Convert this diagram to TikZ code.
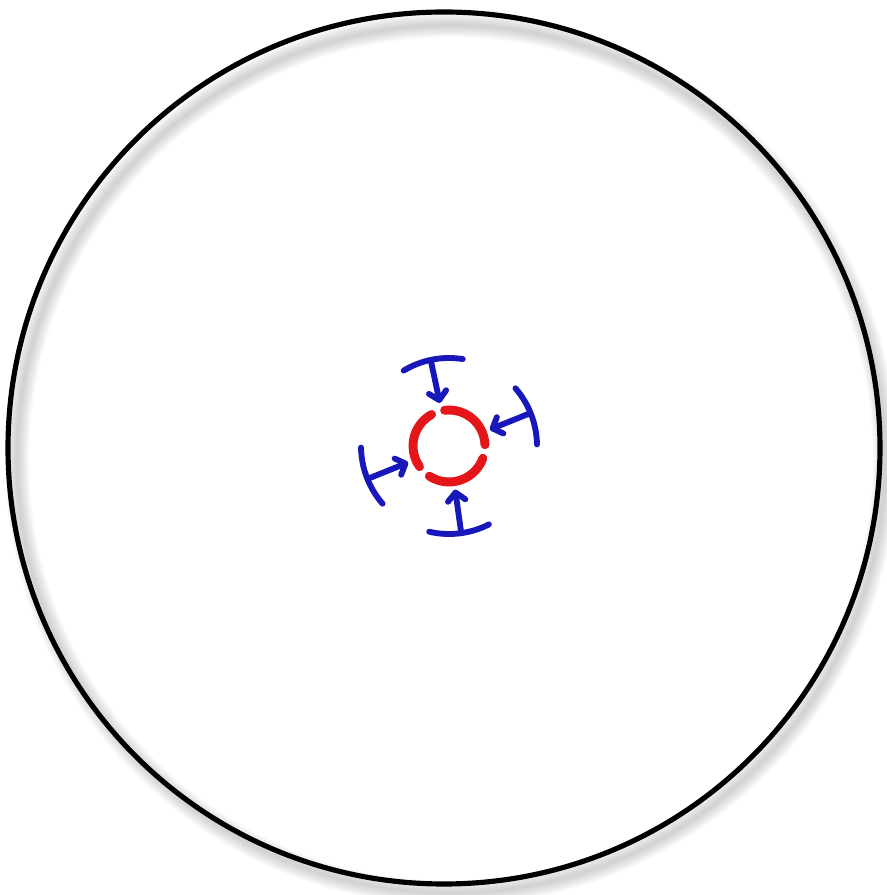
\documentclass[tikz,border=0pt]{standalone}
\usepackage{tikz}
\usetikzlibrary{arrows.meta}

\definecolor{ringred}{RGB}{228,22,26}
\definecolor{penblue}{RGB}{24,24,186}

\tikzset{
  bigring/.style={draw=black, line width=4.4pt},
  redarc/.style={draw=ringred, line width=7.6pt, line cap=round},
  bluepen/.style={draw=penblue, line width=5pt, line cap=round, line join=round},
  bluetip/.style={-{Straight Barb[length=7pt, width=15pt, line cap=round, line join=round]}}
}

\begin{document}
\begin{tikzpicture}[x=0.03cm, y=0.03cm]
    \useasboundingbox (0,0) rectangle (886,895);

    % Outer ring with soft shadow
    \coordinate (o) at (444,447);
    \coordinate (s) at (451,436);
    \foreach \k in {1,...,8}
      \draw[black, opacity=0.025, line width=\k*2.6pt] (s) circle[radius=434];
    \draw[bigring] (o) circle[radius=436];

    % Broken red ring
    \coordinate (c) at (449,449);
    \draw[redarc] (c) ++(119:36) arc[start angle=119, end angle=215, radius=36];
    \draw[redarc] (c) ++(237:36) arc[start angle=237, end angle=340, radius=36];
    \draw[redarc] (c) ++(2:36) arc[start angle=2, end angle=97, radius=36];

    % Blue pushers
    \foreach \a [count=\i] in {102,22,-82,202} {
      \path (c) ++(\a:85) coordinate (b\i);
      \path (c) ++(\a:44) coordinate (t\i);
      \draw[bluepen, bluetip] (b\i) -- (t\i);
      \draw[bluepen] (c) ++({\a-21}:88) arc[start angle={\a-21}, end angle={\a+19}, radius=88];
    }
\end{tikzpicture}
\end{document}
